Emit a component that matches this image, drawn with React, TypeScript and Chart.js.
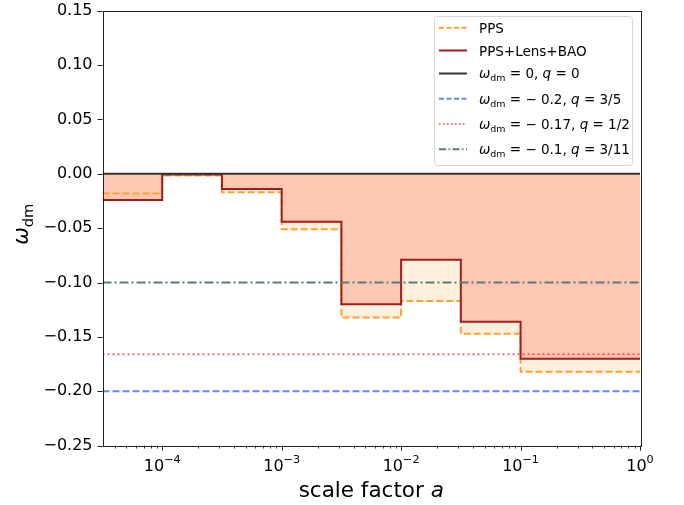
import React, { useEffect, useRef } from "react";
import { Chart, registerables } from "chart.js";

Chart.register(...registerables);

// ---- data ----
const binEdges = [3.162e-5, 1e-4, 3.162e-4, 1e-3, 3.162e-3, 1e-2, 3.162e-2, 1e-1, 1];
const ppsValues = [-0.018, -0.0015, -0.017, -0.051, -0.132, -0.117, -0.147, -0.182];
const lensValues = [-0.024, -0.0006, -0.014, -0.044, -0.12, -0.079, -0.136, -0.17];
const refLevels = [0, -0.2, -0.166, -0.1];
const xMajorTicks = [1e-4, 1e-3, 1e-2, 1e-1, 1];
const xTickExponents = ["\u22124", "\u22123", "\u22122", "\u22121", "0"];
const yTicks = [-0.25, -0.2, -0.15, -0.1, -0.05, 0, 0.05, 0.1, 0.15];
const X_MIN = 3.162e-5;
const X_MAX = 1;
const Y_MIN = -0.25;
const Y_MAX = 0.15;

const FONT = "DejaVu Sans";

const C_PPS = "#ffa030";
const C_LENS = "#a11d1d";
const C_BLACK = "#333333";
const C_BLUE = "rgba(65,105,225,0.8)";
const C_RED = "rgba(255,40,40,0.7)";
const C_GRAY = "#5f7a76";

type Part = { t: string; it?: boolean; sub?: boolean; sup?: boolean };

function drawParts(ctx: CanvasRenderingContext2D, x: number, base: number, parts: Part[], size: number, measureOnly = false) {
  let cx = x;
  for (const p of parts) {
    const s = p.sub || p.sup ? size * 0.7 : size;
    ctx.font = `${p.it ? "italic " : ""}${s}px ${FONT}`;
    const w = ctx.measureText(p.t).width;
    const dy = p.sub ? size * 0.22 : p.sup ? -size * 0.46 : 0;
    if (!measureOnly) ctx.fillText(p.t, cx, base + dy);
    cx += w;
  }
  return cx - x;
}

const legendItems: { parts: Part[]; color: string; dash: number[]; math: boolean }[] = [
  { parts: [{ t: "PPS" }], color: C_PPS, dash: [5, 2.5], math: false },
  { parts: [{ t: "PPS+Lens+BAO" }], color: C_LENS, dash: [], math: false },
  { parts: [{ t: "\u03C9", it: true }, { t: "dm", sub: true }, { t: " = 0, " }, { t: "q", it: true }, { t: " = 0" }], color: C_BLACK, dash: [], math: true },
  { parts: [{ t: "\u03C9", it: true }, { t: "dm", sub: true }, { t: " = \u2212 0.2, " }, { t: "q", it: true }, { t: " = 3/5" }], color: C_BLUE, dash: [5, 2.5], math: true },
  { parts: [{ t: "\u03C9", it: true }, { t: "dm", sub: true }, { t: " = \u2212 0.17, " }, { t: "q", it: true }, { t: " = 1/2" }], color: C_RED, dash: [1.5, 2.5], math: true },
  { parts: [{ t: "\u03C9", it: true }, { t: "dm", sub: true }, { t: " = \u2212 0.1, " }, { t: "q", it: true }, { t: " = 3/11" }], color: C_GRAY, dash: [7, 2.5, 1.5, 2.5], math: true },
];

const decorPlugin = {
  id: "decor",
  afterDraw(chart: any) {
    const ctx: CanvasRenderingContext2D = chart.ctx;
    const { left, right, top, bottom } = chart.chartArea;
    const xs = chart.scales.x;
    const ys = chart.scales.y;
    ctx.save();
    // spines
    ctx.strokeStyle = "#222";
    ctx.lineWidth = 1;
    ctx.setLineDash([]);
    ctx.strokeRect(Math.round(left) + 0.5, Math.round(top) + 0.5, Math.round(right - left), Math.round(bottom - top));
    // x ticks
    ctx.beginPath();
    for (const v of xMajorTicks) {
      const px = Math.round(xs.getPixelForValue(v)) + 0.5;
      ctx.moveTo(px, bottom);
      ctx.lineTo(px, bottom + 5);
    }
    for (let k = -5; k < 0; k++) {
      for (let m = 2; m <= 9; m++) {
        const v = m * Math.pow(10, k);
        if (v < X_MIN || v > X_MAX) continue;
        const px = Math.round(xs.getPixelForValue(v)) + 0.5;
        ctx.moveTo(px, bottom);
        ctx.lineTo(px, bottom + 2.8);
      }
    }
    for (const v of yTicks) {
      const py = Math.round(ys.getPixelForValue(v)) + 0.5;
      ctx.moveTo(left, py);
      ctx.lineTo(left - 5, py);
    }
    ctx.stroke();

    ctx.fillStyle = "#000";
    ctx.textBaseline = "alphabetic";
    ctx.textAlign = "left";

    // x tick labels (10^k)
    xMajorTicks.forEach((v, i) => {
      const parts: Part[] = [{ t: "10" }, { t: xTickExponents[i], sup: true }];
      const w = drawParts(ctx, 0, 0, parts, 16, true);
      const px = xs.getPixelForValue(v);
      drawParts(ctx, px - w / 2, 470.7, parts, 16);
    });

    // axis titles
    const xParts: Part[] = [{ t: "scale factor " }, { t: "a", it: true }];
    const xw = drawParts(ctx, 0, 0, xParts, 21.5, true);
    drawParts(ctx, (left + right) / 2 - xw / 2, 497, xParts, 21.5);

    const yParts: Part[] = [{ t: "\u03C9", it: true }, { t: "dm", sub: true }];
    ctx.save();
    ctx.translate(28, (top + bottom) / 2 - 4);
    ctx.rotate(-Math.PI / 2);
    const yw = drawParts(ctx, 0, 0, yParts, 21, true);
    drawParts(ctx, -yw / 2, 0, yParts, 21);
    ctx.restore();

    // legend
    const lx = 434.5, ly = 16.5, lw = 198, lh = 149;
    ctx.beginPath();
    const r = 3;
    ctx.moveTo(lx + r, ly);
    ctx.arcTo(lx + lw, ly, lx + lw, ly + lh, r);
    ctx.arcTo(lx + lw, ly + lh, lx, ly + lh, r);
    ctx.arcTo(lx, ly + lh, lx, ly, r);
    ctx.arcTo(lx, ly, lx + lw, ly, r);
    ctx.closePath();
    ctx.fillStyle = "rgba(255,255,255,0.85)";
    ctx.fill();
    ctx.strokeStyle = "#d6d6d6";
    ctx.lineWidth = 1;
    ctx.stroke();

    const rowY = [27.7, 50.5, 73.5, 98.8, 124, 149.2];
    legendItems.forEach((it, i) => {
      const yy = rowY[i];
      ctx.beginPath();
      ctx.strokeStyle = it.color;
      ctx.lineWidth = 2;
      ctx.setLineDash(it.dash);
      ctx.moveTo(439, yy);
      ctx.lineTo(467, yy);
      ctx.stroke();
      ctx.setLineDash([]);
      ctx.fillStyle = "#000";
      drawParts(ctx, 479, yy + (it.math ? 4.8 : 5.2), it.parts, 13.5);
    });
    ctx.restore();
  },
};

function stepPoints(values: number[]) {
  return binEdges.map((x, i) => ({ x, y: values[Math.min(i, values.length - 1)] }));
}

export default function App() {
  const ref = useRef<HTMLCanvasElement | null>(null);
  useEffect(() => {
    if (!ref.current) return;
    const refStyles = [
      { color: C_BLACK, dash: [] as number[] },
      { color: C_BLUE, dash: [7, 3] },
      { color: C_RED, dash: [2, 3] },
      { color: C_GRAY, dash: [9, 3, 2, 3] },
    ];
    const refSets = refLevels.map((lv, i) => ({
      label: "ref" + i,
      data: [
        { x: X_MIN, y: lv },
        { x: X_MAX, y: lv },
      ],
      borderColor: refStyles[i].color,
      borderDash: refStyles[i].dash,
      borderWidth: 2,
      pointRadius: 0,
      fill: false,
      order: 0,
    }));
    const chart = new Chart(ref.current, {
      type: "line",
      data: {
        datasets: [
          ...refSets,
          {
            label: "PPS+Lens+BAO",
            data: stepPoints(lensValues),
            stepped: "before",
            borderColor: C_LENS,
            borderWidth: 2,
            pointRadius: 0,
            backgroundColor: "#fdc8b3",
            fill: "origin",
            order: 1,
          },
          {
            label: "PPS",
            data: stepPoints(ppsValues),
            stepped: "before",
            borderColor: C_PPS,
            borderDash: [7, 3],
            borderWidth: 2,
            pointRadius: 0,
            backgroundColor: "#fef0dc",
            fill: "origin",
            order: 2,
          },
        ] as any,
      },
      options: {
        animation: false,
        responsive: false,
        events: [],
        layout: { padding: { left: 0, right: 44, top: 10.7, bottom: 0 } },
        plugins: {
          legend: { display: false },
          tooltip: { enabled: false },
          filler: { drawTime: "beforeDatasetsDraw" },
        } as any,
        scales: {
          x: {
            type: "logarithmic",
            min: X_MIN,
            max: X_MAX,
            grid: { display: false, drawTicks: false },
            border: { display: false },
            afterBuildTicks: (s: any) => {
              s.ticks = xMajorTicks.map((v) => ({ value: v }));
            },
            afterFit: (s: any) => {
              s.height = 505 - 445.7;
              s.paddingLeft = 0;
              s.paddingRight = 0;
            },
            ticks: { display: false },
          },
          y: {
            type: "linear",
            min: Y_MIN,
            max: Y_MAX,
            grid: { display: false, drawTicks: false },
            border: { display: false },
            afterBuildTicks: (s: any) => {
              s.ticks = yTicks.map((v) => ({ value: v }));
            },
            afterFit: (s: any) => {
              s.width = 102.5;
              s.paddingTop = 0;
              s.paddingBottom = 0;
            },
            ticks: {
              padding: 10,
              color: "#000",
              font: { family: FONT, size: 16 },
              callback: (v: any) => {
                const n = Number(v);
                if (Math.abs(n) < 1e-9) return "0.00";
                const s = Math.abs(n).toFixed(2);
                return n < 0 ? "\u2212" + s : s;
              },
            },
          },
        } as any,
      },
      plugins: [decorPlugin],
    });
    return () => chart.destroy();
  }, []);
  return (
    <div style={{ position: "fixed", left: 0, top: 0, width: 684, height: 505, background: "#fff" }}>
      <canvas ref={ref} width={684} height={505} style={{ width: 684, height: 505 }} />
    </div>
  );
}
